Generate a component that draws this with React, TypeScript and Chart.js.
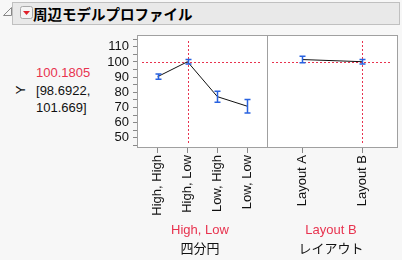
import React, { useEffect, useRef } from "react";
import { Chart, registerables } from "chart.js";

Chart.register(...registerables);

// ---- data ----
const quadCategories = ["High, High", "High, Low", "Low, High", "Low, Low"];
const quadMeans = [90.3, 100.1805, 77.1, 70.8];
const quadLower = [88.6, 98.6922, 73.5, 66.4];
const quadUpper = [92.0, 101.669, 80.7, 75.2];

const layoutCategories = ["Layout A", "Layout B"];
const layoutMeans = [101.6, 100.1805];
const layoutLower = [99.5, 98.6922];
const layoutUpper = [103.7, 101.669];

const currentY = 100.1805;
const currentLower = 98.6922;
const currentUpper = 101.669;
const currentQuadIndex = 1;
const currentLayoutIndex = 1;

const yTicks = [45, 50, 55, 60, 65, 70, 75, 80, 85, 90, 95, 100, 105, 110, 115];
const yLabelTicks = [50, 60, 70, 80, 90, 100, 110];
const yMin = 43.9;
const yMax = 117.8;

const RED = "#e8334f";
const BLUE = "#2862e0";
const FONT = "'Liberation Sans', 'Noto Sans CJK JP', sans-serif";

function panelPlugin(means: number[], lower: number[], upper: number[], currentIndex: number) {
  return {
    id: "panelDecor",
    beforeDraw(chart: any) {
      const { ctx, chartArea: a } = chart;
      ctx.save();
      ctx.fillStyle = "#ffffff";
      ctx.fillRect(a.left, a.top, a.right - a.left, a.bottom - a.top);
      ctx.restore();
    },
    beforeDatasetsDraw(chart: any) {
      const { ctx, chartArea: a } = chart;
      const xs = chart.scales.x;
      const ys = chart.scales.y;
      ctx.save();
      ctx.strokeStyle = RED;
      ctx.lineWidth = 1;
      ctx.setLineDash([2, 2]);
      const yy = Math.round(ys.getPixelForValue(currentY)) + 0.5;
      ctx.beginPath();
      ctx.moveTo(a.left + 5, yy);
      ctx.lineTo(a.right - 5, yy);
      ctx.stroke();
      const xx = Math.round(xs.getPixelForValue(currentIndex)) + 0.5;
      ctx.beginPath();
      ctx.moveTo(xx, a.top + 6);
      ctx.lineTo(xx, a.bottom - 3);
      ctx.stroke();
      ctx.restore();
    },
    afterDatasetsDraw(chart: any) {
      const { ctx } = chart;
      const xs = chart.scales.x;
      const ys = chart.scales.y;
      ctx.save();
      ctx.strokeStyle = BLUE;
      ctx.lineWidth = 1.5;
      for (let i = 0; i < means.length; i++) {
        const x = Math.round(xs.getPixelForValue(i)) + 0.5;
        const y1 = ys.getPixelForValue(lower[i]);
        const y2 = ys.getPixelForValue(upper[i]);
        ctx.beginPath();
        ctx.moveTo(x, y1);
        ctx.lineTo(x, y2);
        ctx.moveTo(x - 3, y1);
        ctx.lineTo(x + 3, y1);
        ctx.moveTo(x - 3, y2);
        ctx.lineTo(x + 3, y2);
        ctx.stroke();
      }
      ctx.restore();
    },
    afterDraw(chart: any) {
      const { ctx, chartArea: a } = chart;
      ctx.save();
      ctx.strokeStyle = "#a0a0a0";
      ctx.lineWidth = 1;
      const l = Math.round(a.left) + 0.5;
      const r = Math.round(a.right) + 0.5;
      const t = Math.round(a.top) + 0.5;
      const b = Math.round(a.bottom) + 0.5;
      ctx.strokeRect(l, t, r - l, b - t);
      ctx.restore();
    },
  };
}

function makeConfig(
  cats: string[],
  means: number[],
  lower: number[],
  upper: number[],
  currentIndex: number,
  xMin: number,
  xMax: number,
  showY: boolean,
  padLeft: number,
  padRight: number
): any {
  return {
    type: "line",
    data: {
      datasets: [
        {
          data: means.map((v, i) => ({ x: i, y: v })),
          borderColor: "#111111",
          borderWidth: 1,
          pointRadius: 0,
          tension: 0,
          fill: false,
        },
      ],
    },
    options: {
      animation: false,
      responsive: false,
      devicePixelRatio: 1,
      layout: { padding: { top: 5, left: padLeft, right: padRight, bottom: 0 } },
      plugins: { legend: { display: false }, tooltip: { enabled: false } },
      scales: {
        x: {
          type: "linear",
          min: xMin,
          max: xMax,
          afterBuildTicks: (s: any) => {
            s.ticks = cats.map((_, i) => ({ value: i }));
          },
          afterFit: (s: any) => {
            s.height = 113;
            s.paddingLeft = 0;
            s.paddingRight = 0;
          },
          ticks: {
            autoSkip: false,
            minRotation: 90,
            maxRotation: 90,
            padding: 2,
            color: "#111",
            font: { family: FONT, size: 13 },
            callback: (v: any) => cats[v] ?? "",
          },
          grid: { drawOnChartArea: false, drawTicks: true, tickLength: 6, color: "#888" },
          border: { display: false },
        },
        y: {
          display: showY,
          min: yMin,
          max: yMax,
          afterBuildTicks: (s: any) => {
            s.ticks = yTicks.map((v) => ({ value: v }));
          },
          afterFit: (s: any) => {
            s.width = showY ? 47 : 0;
            s.paddingTop = 0;
            s.paddingBottom = 0;
          },
          ticks: {
            autoSkip: false,
            padding: 4,
            color: "#111",
            font: { family: FONT, size: 13 },
            callback: (v: any) => (yLabelTicks.includes(v) ? String(v) : ""),
          },
          grid: { drawOnChartArea: false, drawTicks: true, tickLength: 4, color: "#888" },
          border: { display: false },
        },
      },
    },
    plugins: [panelPlugin(means, lower, upper, currentIndex)],
  };
}

export default function App() {
  const c1 = useRef<HTMLCanvasElement>(null);
  const c2 = useRef<HTMLCanvasElement>(null);

  useEffect(() => {
    document.body.style.margin = "0";
    const ch1 = new Chart(
      c1.current!,
      makeConfig(quadCategories, quadMeans, quadLower, quadUpper, currentQuadIndex, -0.69, 3.66, true, 0, 1)
    );
    const ch2 = new Chart(
      c2.current!,
      makeConfig(layoutCategories, layoutMeans, layoutLower, layoutUpper, currentLayoutIndex, -0.59, 1.58, false, 0, 5)
    );
    return () => {
      ch1.destroy();
      ch2.destroy();
    };
  }, []);

  const txt: React.CSSProperties = {
    position: "absolute",
    fontFamily: FONT,
    fontSize: 13,
    lineHeight: "16px",
    whiteSpace: "nowrap",
    color: "#111",
  };

  return (
    <div
      style={{
        position: "absolute",
        left: 0,
        top: 0,
        width: 402,
        height: 260,
        background: "#f7f7f7",
        overflow: "hidden",
      }}
    >
      {/* title bar */}
      <svg style={{ position: "absolute", left: 3, top: 7 }} width={9} height={9}>
        <polygon points="8.5,0.5 8.5,8.5 0.5,8.5" fill="none" stroke="#888" strokeWidth={1} />
      </svg>
      <div
        style={{
          position: "absolute",
          left: 12,
          top: 2,
          width: 386,
          height: 21,
          background: "#e9e9e9",
          border: "1px solid #c0c0c0",
        }}
      />
      <svg style={{ position: "absolute", left: 20, top: 6 }} width={14} height={14}>
        <rect x={0.5} y={0.5} width={12} height={12} rx={2} fill="#f4f4f4" stroke="#a8a8a8" />
        <polygon points="3,5 10,5 6.5,9" fill="#e0202a" />
      </svg>
      <div
        style={{
          ...txt,
          left: 33,
          top: 4,
          fontSize: 14.5,
          lineHeight: "20px",
          fontWeight: "bold",
          color: "#000",
          fontFamily: "'Noto Sans CJK JP', sans-serif",
        }}
      >
        周辺モデルプロファイル
      </div>

      {/* left response info */}
      <div
        style={{
          ...txt,
          left: 21,
          top: 90,
          transform: "translate(-50%, -50%) rotate(-90deg)",
        }}
      >
        Y
      </div>
      <div style={{ ...txt, left: 36, top: 65, color: RED }}>{currentY.toFixed(4)}</div>
      <div style={{ ...txt, left: 36, top: 83 }}>[{currentLower},</div>
      <div style={{ ...txt, left: 36, top: 100 }}>{currentUpper}]</div>

      <canvas
        ref={c1}
        width={178}
        height={230}
        style={{ position: "absolute", left: 90, top: 30, width: 178, height: 230 }}
      />
      <canvas
        ref={c2}
        width={135}
        height={230}
        style={{ position: "absolute", left: 267, top: 30, width: 135, height: 230 }}
      />

      {/* factor labels */}
      <div style={{ ...txt, left: 200, top: 222, transform: "translateX(-50%)", color: RED }}>
        {quadCategories[currentQuadIndex]}
      </div>
      <div style={{ ...txt, left: 200, top: 240, transform: "translateX(-50%)", fontFamily: "'Noto Sans CJK JP', sans-serif" }}>
        四分円
      </div>
      <div style={{ ...txt, left: 331, top: 222, transform: "translateX(-50%)", color: RED }}>
        {layoutCategories[currentLayoutIndex]}
      </div>
      <div style={{ ...txt, left: 331, top: 240, transform: "translateX(-50%)", fontFamily: "'Noto Sans CJK JP', sans-serif" }}>
        レイアウト
      </div>
    </div>
  );
}
